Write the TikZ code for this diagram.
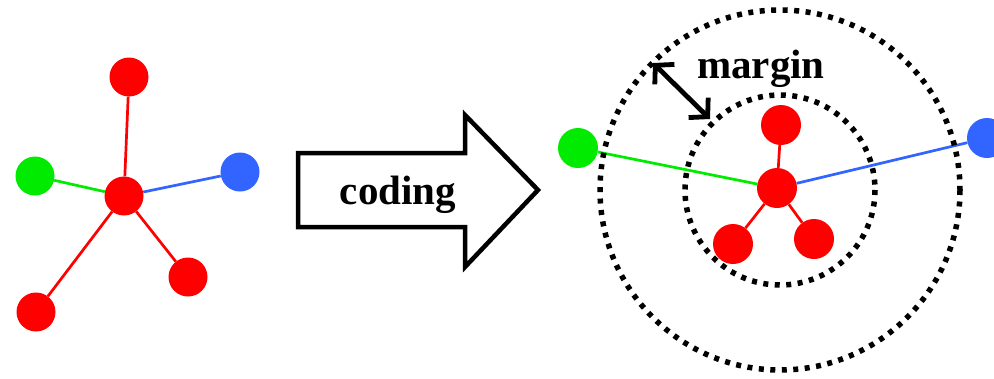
\documentclass[tikz,border=0pt]{standalone}
\usepackage{fontspec}
\setmainfont{Liberation Serif}
\usetikzlibrary{arrows.meta}
\definecolor{vred}{RGB}{255,0,0}
\definecolor{vgreen}{RGB}{0,235,0}
\definecolor{vblue}{RGB}{50,100,255}
\pgfdeclarelayer{background}
\pgfsetlayers{background,main}
\begin{document}
\begin{tikzpicture}[x=1pt,y=-1pt,
  vertex/.style={circle,inner sep=0pt,minimum size=39pt,fill=#1},
  link/.style={line width=2.7pt,draw=#1},
  ring/.style={line width=5.5pt,dash pattern=on 5pt off 6.5pt},
  bigtext/.style={font=\bfseries\fontsize{41}{48}\selectfont,inner sep=0pt,anchor=base},
  span/.style={line width=4.8pt,>={Straight Barb[length=13pt,width=28pt]},<->}
]
\clip (0,0) rectangle (994,378);

% original star graph
\node[vertex=vred]   (c1)  at (124,196) {};
\node[vertex=vred]   (t1)  at (129,77)  {};
\node[vertex=vgreen] (g1)  at (35,176)  {};
\node[vertex=vblue]  (b1)  at (240,172) {};
\node[vertex=vred]   (br1) at (188,277) {};
\node[vertex=vred]   (bl1) at (36,312)  {};

% block arrow with caption
\draw[line width=4.5pt] (298,153) -- (465,153) -- (465,115) -- (538,190)
  -- (465,267) -- (465,227) -- (298,227) -- cycle;
\node[bigtext] (coding) at (398,204) {coding};

% coded graph
\coordinate (o) at (780,190);
\node[vertex=vred,minimum size=40pt] (c2)  at (777,188) {};
\node[vertex=vred,minimum size=40pt] (t2)  at (781,125) {};
\node[vertex=vred,minimum size=40pt] (bl2) at (733,244) {};
\node[vertex=vred,minimum size=40pt] (br2) at (814,239) {};
\node[vertex=vgreen,minimum size=40pt] (g2) at (578,148) {};
\node[vertex=vblue,minimum size=40pt]  (b2) at (987,138) {};

\coordinate (outer) at (653,63);
\coordinate (inner) at (710,119);
\draw[span] (outer) -- (inner);
\node[bigtext] (margin) at (761,78) {margin};

\begin{pgfonlayer}{background}
  \draw[link=vred]   (c1) -- (t1);
  \draw[link=vgreen] (c1) -- (g1);
  \draw[link=vblue]  (c1) -- (b1);
  \draw[link=vred]   (c1) -- (br1);
  \draw[link=vred]   (c1) -- (bl1);
  \draw[link=vred]   (c2) -- (t2);
  \draw[link=vred]   (c2) -- (bl2);
  \draw[link=vred]   (c2) -- (br2);
  \draw[link=vgreen] (c2) -- (g2);
  \draw[link=vblue]  (c2) -- (b2);
  \draw[ring] (o) circle[radius=180];
  \draw[ring] (o) circle[radius=95];
\end{pgfonlayer}
\end{tikzpicture}
\end{document}
